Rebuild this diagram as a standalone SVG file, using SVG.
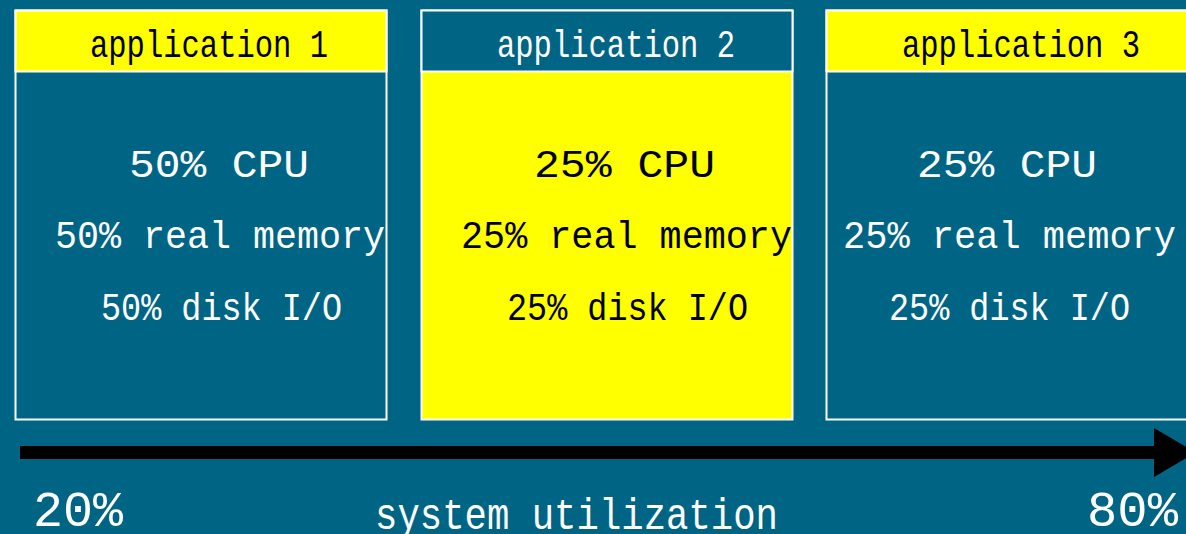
<svg xmlns="http://www.w3.org/2000/svg" width="1186" height="534" viewBox="0 0 1186 534">
<style>
.t{font-family:"Liberation Mono","Courier New",monospace;font-size:38px;}
.w{fill:#ffffff;}
.k{fill:#000000;}
.box{stroke:#ffffff;stroke-width:2;}
.teal{fill:#006584;}
.yel{fill:#ffff00;}
</style>
<rect width="1186" height="534" fill="#006584"/>
<g id="app1">
<rect class="box teal" x="15.5" y="10.5" width="371" height="409"/>
<rect class="box yel" x="15.5" y="10.5" width="371" height="61"/>
<text class="t k" x="90" y="57" textLength="238" lengthAdjust="spacingAndGlyphs">application 1</text>
<text class="t w" x="129" y="177" textLength="180" lengthAdjust="spacingAndGlyphs">50% CPU</text>
<text class="t w" x="55" y="248" textLength="330" lengthAdjust="spacingAndGlyphs">50% real memory</text>
<text class="t w" x="101" y="320" textLength="241" lengthAdjust="spacingAndGlyphs">50% disk I/O</text>
</g>
<g id="app2">
<rect class="box yel" x="421.5" y="10.5" width="371" height="409"/>
<rect class="box teal" x="421.5" y="10.5" width="371" height="61"/>
<text class="t w" x="497" y="57" textLength="238" lengthAdjust="spacingAndGlyphs">application 2</text>
<text class="t k" x="534" y="177" textLength="181" lengthAdjust="spacingAndGlyphs">25% CPU</text>
<text class="t k" x="461" y="248" textLength="331" lengthAdjust="spacingAndGlyphs">25% real memory</text>
<text class="t k" x="507" y="320" textLength="241" lengthAdjust="spacingAndGlyphs">25% disk I/O</text>
</g>
<g id="app3">
<rect class="box teal" x="826.5" y="10.5" width="380" height="409"/>
<rect class="box yel" x="826.5" y="10.5" width="380" height="61"/>
<text class="t k" x="902" y="57" textLength="238" lengthAdjust="spacingAndGlyphs">application 3</text>
<text class="t w" x="917" y="177" textLength="180" lengthAdjust="spacingAndGlyphs">25% CPU</text>
<text class="t w" x="843" y="248" textLength="333" lengthAdjust="spacingAndGlyphs">25% real memory</text>
<text class="t w" x="889" y="320" textLength="241" lengthAdjust="spacingAndGlyphs">25% disk I/O</text>
</g>
<g id="connectors">
<rect x="20" y="446" width="1140" height="13" fill="#000000"/>
<polygon points="1154,428 1196,452.5 1154,477" fill="#000000"/>
</g>
<g id="labels">
<text class="t w" x="33" y="526" style="font-size:50px" textLength="90" lengthAdjust="spacingAndGlyphs">20%</text>
<text class="t w" x="375" y="529" style="font-size:44px" textLength="403" lengthAdjust="spacingAndGlyphs">system utilization</text>
<text class="t w" x="1087" y="526" style="font-size:50px" textLength="91" lengthAdjust="spacingAndGlyphs">80%</text>
</g>
</svg>
